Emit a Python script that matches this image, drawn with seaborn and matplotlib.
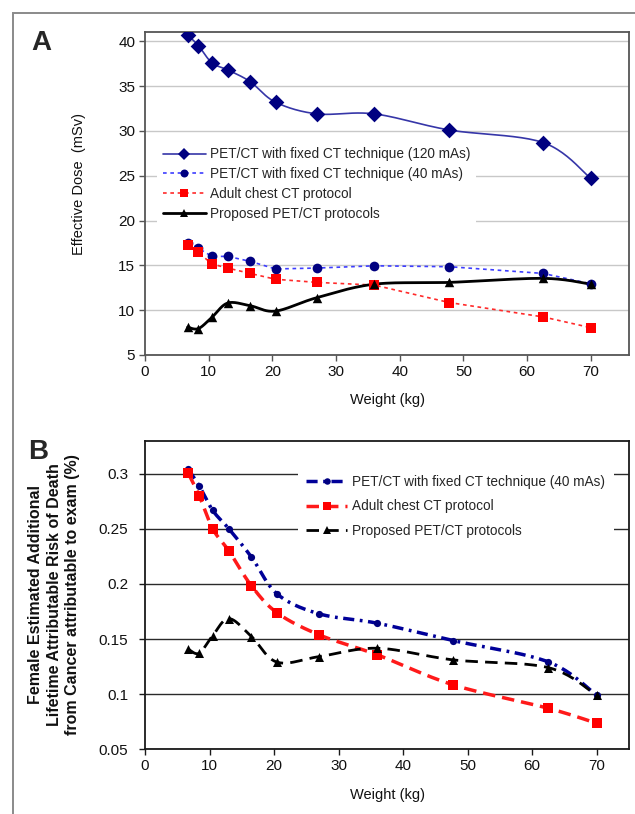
import numpy as np
import matplotlib
matplotlib.use("Agg")
import matplotlib.pyplot as plt
from matplotlib.lines import Line2D
from matplotlib.patches import Rectangle
import seaborn as sns

sns.set_theme(style="white")
plt.rcParams["font.family"] = ["Liberation Sans", "DejaVu Sans"]

# ---------------- data ----------------
weight_kg = [6.7, 8.4, 10.5, 13.0, 16.5, 20.5, 27.0, 36.0, 47.8, 62.5, 70.0]

# Panel A: effective dose (mSv)
dose_fixed_120 = [40.7, 39.5, 37.6, 36.8, 35.5, 33.2, 31.9, 31.9, 30.1, 28.7, 24.7]
dose_fixed_40 = [17.5, 16.9, 16.0, 16.0, 15.45, 14.6, 14.7, 14.95, 14.85, 14.1, 12.95]
dose_adult = [17.25, 16.45, 15.15, 14.7, 14.1, 13.45, 13.1, 12.8, 10.85, 9.25, 8.05]
dose_proposed = [8.1, 7.95, 9.2, 10.8, 10.5, 9.9, 11.4, 12.9, 13.1, 13.55, 12.9]

# Panel B: female lifetime attributable risk (%)
risk_fixed_40 = [0.304, 0.289, 0.2667, 0.250, 0.2244, 0.1908, 0.1729, 0.1644, 0.1486, 0.1293, 0.099]
risk_adult = [0.3005, 0.280, 0.250, 0.230, 0.1983, 0.1737, 0.1538, 0.1357, 0.1084, 0.0872, 0.0736]
risk_proposed = [0.1408, 0.1372, 0.1532, 0.1686, 0.1523, 0.129, 0.1341, 0.1417, 0.1311, 0.1241, 0.099]

labels_A = ["PET/CT with fixed CT technique (120 mAs)",
            "PET/CT with fixed CT technique (40 mAs)",
            "Adult chest CT protocol",
            "Proposed PET/CT protocols"]
labels_B = ["PET/CT with fixed CT technique (40 mAs)",
            "Adult chest CT protocol",
            "Proposed PET/CT protocols"]
ylabel_B_lines = ["Female Estimated Additional",
                  "Lifetime Attributable Risk of Death",
                  "from Cancer attributable to exam (%)"]

xticks = [0, 10, 20, 30, 40, 50, 60, 70]
yticks_A = [5, 10, 15, 20, 25, 30, 35, 40]
yticks_B = [0.05, 0.1, 0.15, 0.2, 0.25, 0.3]
yticklabels_B = ["0.05", "0.1", "0.15", "0.2", "0.25", "0.3"]


def smooth_curve(x, y, n=24):
    """Excel-like smoothed line (Bezier through the data points)."""
    p = np.column_stack([x, y]).astype(float)
    m = len(p)
    xs, ys = [], []
    t = np.linspace(0, 1, n)[:, None]
    for i in range(m - 1):
        p0 = p[i - 1] if i > 0 else p[i]
        p1 = p[i]
        p2 = p[i + 1]
        p3 = p[i + 2] if i + 2 < m else p[i + 1]
        c1 = p1 + (p2 - p0) / 6.0
        c2 = p2 - (p3 - p1) / 6.0
        b = ((1 - t) ** 3) * p1 + 3 * ((1 - t) ** 2) * t * c1 + 3 * (1 - t) * t ** 2 * c2 + t ** 3 * p2
        if i > 0:
            b = b[1:]
        xs.extend(b[:, 0])
        ys.extend(b[:, 1])
    return np.array(xs), np.array(ys)


W, H = 635, 814
fig = plt.figure(figsize=(W / 100, H / 100), dpi=100)

# outer frame
fig.patches.append(Rectangle((13 / W, -0.05), 1.2, 1 - 13 / H + 0.05, transform=fig.transFigure,
                             fill=False, edgecolor="#8a8a8a", linewidth=1.4, zorder=0))

axA = fig.add_axes([145 / W, 1 - 355 / H, 484 / W, 322.7 / H])
axB = fig.add_axes([145 / W, 1 - 749.3 / H, 484 / W, 308.6 / H])

# ---------------- Panel A ----------------
ax = axA
styles_A = [
    dict(y=dose_fixed_120, lc="#3636a8", mc="#000080", ls="-", lw=1.2, marker="D", ms=8.0, smooth=True),
    dict(y=dose_fixed_40, lc="#3d3dff", mc="#000080", ls=(0, (2.2, 2.2)), lw=1.2, marker="o", ms=7.0, smooth=False),
    dict(y=dose_adult, lc="#ff2a2a", mc="#ff0000", ls=(0, (2.2, 2.2)), lw=1.2, marker="s", ms=6.8, smooth=False),
    dict(y=dose_proposed, lc="#000000", mc="#000000", ls="-", lw=2.0, marker="^", ms=6.8, smooth=True),
]
handles_A = []
for st, lab in zip(styles_A, labels_A):
    if st["smooth"]:
        sx, sy = smooth_curve(weight_kg, st["y"])
    else:
        sx, sy = np.array(weight_kg), np.array(st["y"])
    sns.lineplot(x=sx, y=sy, sort=False, estimator=None, ax=ax, color=st["lc"],
                 linewidth=st["lw"], linestyle=st["ls"], zorder=3)
    sns.scatterplot(x=weight_kg, y=st["y"], ax=ax, marker=st["marker"], s=st["ms"] ** 2,
                    color=st["mc"], edgecolor=st["mc"], linewidth=0, zorder=4)
    handles_A.append(Line2D([], [], color=st["lc"], linestyle=st["ls"], linewidth=st["lw"],
                            marker=st["marker"], markersize=st["ms"] * 0.82, markerfacecolor=st["mc"],
                            markeredgecolor=st["mc"], markeredgewidth=0, label=lab))

ax.set_xlim(0, 76)
ax.set_ylim(5, 41)
ax.set_xticks(xticks)
ax.set_yticks(yticks_A)
ax.grid(axis="y", color="#c8c8c8", linewidth=1.0)
ax.set_axisbelow(True)
for sp in ax.spines.values():
    sp.set_color("#555555")
    sp.set_linewidth(1.3)
ax.tick_params(axis="both", direction="out", length=4, width=1, color="#555555",
               labelsize=11, pad=3, bottom=True, left=True, labelcolor="#111111")
ax.set_xlabel("Weight (kg)", fontsize=10.5, color="#111111")
ax.xaxis.set_label_coords(0.5, -0.118)
ax.set_ylabel("Effective Dose  (mSv)", fontsize=10.5, color="#111111")
ax.yaxis.set_label_coords(-0.122, 0.53)
legA = ax.legend(handles=handles_A, loc="upper left", bbox_to_anchor=(0.025, 0.66),
                 fontsize=9.8, frameon=True, facecolor="white", edgecolor="none", framealpha=1,
                 handlelength=3.2, handletextpad=0.3, labelspacing=0.42, borderpad=0.4,
                 borderaxespad=0.0)
legA.set_zorder(5)
fig.text(41 / W, 1 - 43 / H, "A", fontsize=20, fontweight="bold", ha="center", va="center")

# ---------------- Panel B ----------------
ax = axB
styles_B = [
    dict(y=risk_fixed_40, lc="#000099", mc="#000080", ls=(0, (3.2, 1.6, 0.8, 1.6)), lw=2.5, marker="o", ms=5.2),
    dict(y=risk_adult, lc="#ff1a1a", mc="#ff0000", ls=(0, (3.6, 2.0)), lw=2.5, marker="s", ms=6.5),
    dict(y=risk_proposed, lc="#000000", mc="#000000", ls=(0, (4.5, 2.6)), lw=2.0, marker="^", ms=6.5),
]
handles_B = []
for st, lab in zip(styles_B, labels_B):
    sx, sy = smooth_curve(weight_kg, st["y"])
    sns.lineplot(x=sx, y=sy, sort=False, estimator=None, ax=ax, color=st["lc"],
                 linewidth=st["lw"], linestyle=st["ls"], zorder=3)
    sns.scatterplot(x=weight_kg, y=st["y"], ax=ax, marker=st["marker"], s=st["ms"] ** 2,
                    color=st["mc"], edgecolor=st["mc"], linewidth=0, zorder=4)
    handles_B.append(Line2D([], [], color=st["lc"], linestyle=st["ls"], linewidth=st["lw"],
                            marker=st["marker"], markersize=st["ms"] * 0.9, markerfacecolor=st["mc"],
                            markeredgecolor=st["mc"], markeredgewidth=0, label=lab))

ax.set_xlim(0, 75)
ax.set_ylim(0.05, 0.33)
ax.set_xticks(xticks)
ax.set_yticks(yticks_B)
ax.set_yticklabels(yticklabels_B)
ax.grid(axis="y", color="#2a2a2a", linewidth=1.0)
ax.set_axisbelow(True)
for sp in ax.spines.values():
    sp.set_color("#1a1a1a")
    sp.set_linewidth(1.3)
ax.tick_params(axis="x", direction="out", length=4, width=1, color="#1a1a1a",
               labelsize=11, pad=3, bottom=True, labelcolor="#111111")
ax.tick_params(axis="y", direction="out", length=4, width=1, color="#1a1a1a",
               labelsize=11, pad=8, left=True, labelcolor="#111111")
ax.set_xlabel("Weight (kg)", fontsize=10.5, color="#111111")
ax.xaxis.set_label_coords(0.5, -0.125)
ax.set_ylabel("")
for line_txt, px in zip(ylabel_B_lines, [36, 55, 73]):
    ax.text((px - 145) / 484, 0.5, line_txt, transform=ax.transAxes, rotation=90,
            ha="center", va="center", fontsize=11.5, fontweight="bold", color="#111111")
legB = ax.legend(handles=handles_B, loc="upper left", bbox_to_anchor=(0.316, 0.915),
                 fontsize=9.8, frameon=True, facecolor="white", edgecolor="none", framealpha=1,
                 handlelength=3.0, handletextpad=0.4, labelspacing=0.75, borderpad=0.6,
                 borderaxespad=0.0)
legB.set_zorder(5)
fig.text(38 / W, 1 - 452 / H, "B", fontsize=20, fontweight="bold", ha="center", va="center")

fig.savefig("out.png", dpi=100)
